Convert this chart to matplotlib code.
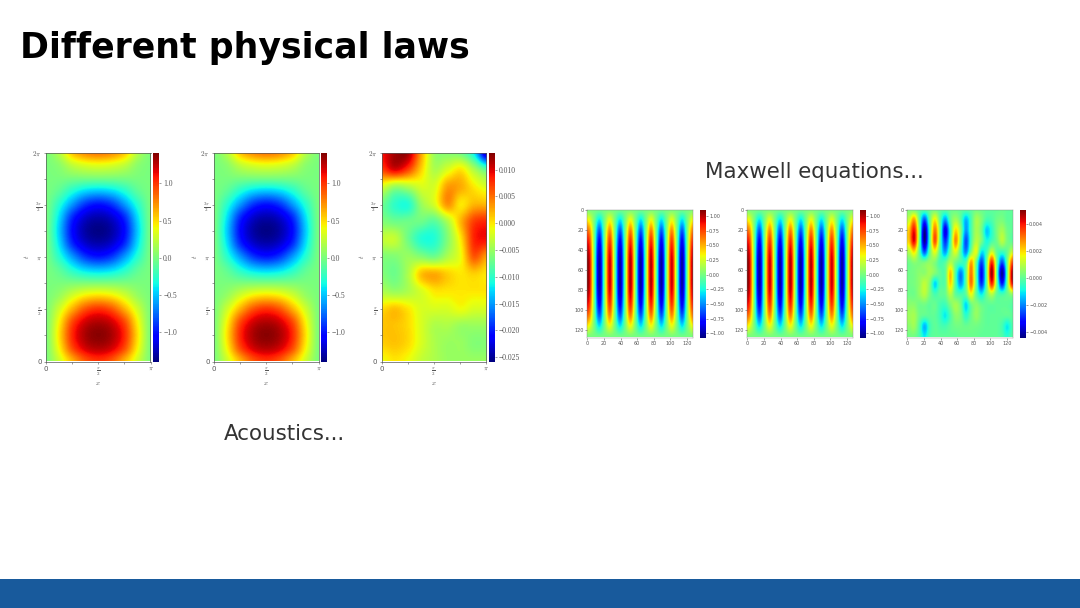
import matplotlib
matplotlib.use('Agg')
import matplotlib.pyplot as plt
import numpy as np

W, H = 1080, 608

# Acoustics field, rows from t=2pi down to t=0, columns x=0..pi
acoustic_field = np.array([
    [0, .20, .58, .76, .82, .76, .58, .20, 0],
    [0, .06, .24, .33, .36, .33, .24, .06, 0],
    [0, 0, 0, 0, 0, 0, 0, 0, 0],
    [0, -.10, -.30, -.45, -.50, -.45, -.30, -.10, 0],
    [0, -.28, -.62, -.90, -1.0, -.90, -.62, -.28, 0],
    [0, -.42, -.93, -1.20, -1.28, -1.20, -.93, -.42, 0],
    [0, -.48, -1.03, -1.30, -1.38, -1.30, -1.03, -.48, 0],
    [0, -.42, -.93, -1.20, -1.28, -1.20, -.93, -.42, 0],
    [0, -.28, -.62, -.90, -1.0, -.90, -.62, -.28, 0],
    [0, -.10, -.30, -.45, -.50, -.45, -.30, -.10, 0],
    [0, 0, 0, 0, 0, 0, 0, 0, 0],
    [0, .10, .30, .45, .50, .45, .30, .10, 0],
    [0, .28, .62, .90, 1.0, .90, .62, .28, 0],
    [0, .42, .93, 1.20, 1.28, 1.20, .93, .42, 0],
    [0, .48, 1.03, 1.30, 1.38, 1.30, 1.03, .48, 0],
    [0, .42, .93, 1.20, 1.28, 1.20, .93, .42, 0],
    [0, .28, .62, .90, 1.0, .90, .62, .28, 0],
])

# Acoustics error, same orientation, in units of 0.001
acoustic_error = np.array([
    [9, 12, 12, 3, -5, -6, -7, -12, -25],
    [7, 10, 7, 1, -4, -2, 0, -4, -8],
    [-2, -5, -4, -2, -2, 3, 2.5, 0, -2],
    [-7, -10, -10.5, -5, -2, 3.5, 0, 2, 2],
    [-6, -7, -7, -7, -8, -4, 2, 7, 8],
    [-3, -3, -7, -10.5, -10.5, -6, 0, 8, 9],
    [-6, -6, -5, -6, -7, -4, -1, 6, 3],
    [-6, -7, -4, 1.5, 2.5, 1, 0, 1, 0],
    [-4, -5, -4, -2, 0, 0, 0, 0, 0],
    [.5, 1.5, 0, -2, -2, -2, -1, -2, -2],
    [1.5, 1.5, .5, -2, -4, -4, -5, -5, -5],
    [1, 1.5, .5, -2, -4, -5, -5, -6, -6],
    [-1, 0, -1, -3, -4, -5, -5, -5, -5],
])

# Maxwell stripes: peaks and nodes across x, strength down y
stripe_profile = [1.0, 0, -1.0, 0, .95, 0, -1.0, 0, 1.0, 0, -1.0, 0, 1.0, 0, -1.0, 0, .95, 0, -1.0, 0, 1.0]
stripe_envelope = [0, .3, .6, .8, .93, 1.0, 1.0, 1.0, .93, .8, .6, .3, 0]

# Maxwell error, rows top to bottom, in units of 0.001
maxwell_error = np.array([
    [.3, .2, 0, 0, .1, .2, 0, 0, .1, .1, 0, 0, 0, .2, .1, 0, 0, 0, .1, 0, 0],
    [1.2, 2.6, 0, -2.5, 0, 1.8, 0, -1.8, 0, .8, 0, -1.5, -.3, .8, .4, -.3, -.2, .2, .3, 0, 0],
    [2.2, 4, .3, -4.2, -.3, 3, .2, -3.5, -.5, 2, .5, -1.8, -.3, .8, .2, -1.3, -.6, .3, .8, .2, 0],
    [2.2, 4.2, .2, -4.2, -.3, 3.4, 0, -2.8, -.3, 2.8, .3, -2.5, -.3, 1, .3, -.8, -.3, .2, 1, .3, 0],
    [1, 2, 0, -2.5, 0, 1.6, -.2, -1.8, .2, 1.5, -.2, -2, .3, 1.5, -1, -.4, 1.2, 0, -.4, .1, 1.2],
    [.2, .5, .3, .3, .6, .4, -.3, -.1, .9, .2, -.3, -.2, 2.5, .2, -2.6, 0, 3.8, .2, -2.5, .2, 3.5],
    [.2, .3, .5, .5, .8, .4, 0, 0, 2.2, -.2, -2, 0, 3, 0, -3.2, 0, 4.8, 0, -4.2, 0, 4.8],
    [.2, .3, .6, 1.1, .4, -1.2, -.2, 0, 2, -.2, -1.8, 0, 3, .1, -2.8, 0, 3.8, .2, -3, .2, 4.2],
    [.2, .2, .6, 1, .3, -.3, 0, .1, 1, 0, -.3, 0, 1.6, 0, -1, .1, 1, 0, -.3, .1, .6],
    [.5, .5, .2, .2, 0, .1, -.3, -.4, .3, .8, .2, -1.2, .1, .5, .1, 0, 0, 0, 0, 0, -.1],
    [.7, .8, .2, 0, 0, 0, -.4, -1, -.2, .5, .3, -.6, .1, .6, .2, 0, 0, 0, 0, 0, 0],
    [.5, .7, -.2, -1.5, -.4, 0, -.2, -.3, 0, .2, .2, .1, .2, .2, .1, 0, 0, 0, -.3, -1, -.2],
    [.2, .2, -.2, -1, -.2, 0, 0, 0, 0, 0, .1, .1, .1, .1, 0, 0, 0, 0, -.2, -.6, -.1],
])

acoustic_ticks = [-1.0, -0.5, 0.0, 0.5, 1.0]
acoustic_err_ticks = [-0.025, -0.020, -0.015, -0.010, -0.005, 0.000, 0.005, 0.010]
maxwell_ticks = [-1.0, -0.75, -0.5, -0.25, 0.0, 0.25, 0.5, 0.75, 1.0]
maxwell_err_ticks = [-0.004, -0.002, 0.0, 0.002, 0.004]
maxwell_axis_ticks = [0, 20, 40, 60, 80, 100, 120]

plt.rcParams['mathtext.fontset'] = 'cm'
SERIF = 'Liberation Serif'
GREY = '#555555'


def box(x0, y0, x1, y1):
    # pixel box with y measured from the top of the slide
    return [x0 / W, 1 - y1 / H, (x1 - x0) / W, (y1 - y0) / H]


def draw_acoustic(fig, x0, field, vmin, vmax, cticks, fmt):
    ax = fig.add_axes(box(x0, 153, x0 + 104.5, 361.5))
    ny, nx = field.shape
    dx, dy = np.pi / (nx - 1), 2 * np.pi / (ny - 1)
    im = ax.imshow(field, cmap='jet', vmin=vmin, vmax=vmax, aspect='auto', interpolation='catrom',
                   extent=[-dx / 2, np.pi + dx / 2, -dy / 2, 2 * np.pi + dy / 2])
    ax.set_xlim(0, np.pi)
    ax.set_ylim(0, 2 * np.pi)
    ax.set_xticks([0, np.pi / 2, np.pi])
    ax.set_xticklabels(['0', r'$\frac{\pi}{2}$', r'$\pi$'])
    ax.set_xticks([np.pi / 4, 3 * np.pi / 4], minor=True)
    ax.set_yticks([0, np.pi / 2, np.pi, 3 * np.pi / 2, 2 * np.pi])
    ax.set_yticklabels(['0', r'$\frac{\pi}{2}$', r'$\pi$', r'$\frac{3\pi}{2}$', r'$2\pi$'])
    ax.set_yticks(np.pi / 4 * np.array([1, 3, 5, 7]), minor=True)
    ax.tick_params(which='both', length=1.5, width=0.4, labelsize=5, pad=1.5, colors=GREY)
    ax.set_xlabel(r'$x$', fontsize=5, labelpad=1, color=GREY)
    ax.set_ylabel(r'$t$', fontsize=5, labelpad=1, color=GREY, rotation=90)
    for s in ax.spines.values():
        s.set_linewidth(0.5)
        s.set_color(GREY)
    cax = fig.add_axes(box(x0 + 107, 153, x0 + 113, 361.5))
    cb = fig.colorbar(im, cax=cax)
    cb.set_ticks(cticks)
    cb.set_ticklabels([fmt(t) for t in cticks], fontfamily=SERIF)
    cb.ax.tick_params(length=1.5, width=0.4, labelsize=5.5, pad=1.5, colors=GREY)
    cb.outline.set_linewidth(0)


def draw_maxwell(fig, x0, field, vmin, vmax, cticks, fmt):
    ax = fig.add_axes(box(x0, 210, x0 + 106, 337.5))
    ny, nx = field.shape
    dx = 124.8 / (nx - 1)
    dy = 128.0 / (ny - 1)
    im = ax.imshow(field, cmap='jet', vmin=vmin, vmax=vmax, aspect='auto', interpolation='catrom',
                   extent=[2 - dx / 2, 126.8 + dx / 2, 127.5 + dy / 2, -0.5 - dy / 2])
    ax.set_xlim(-0.5, 127.5)
    ax.set_ylim(127.5, -0.5)
    ax.set_xticks(maxwell_axis_ticks)
    ax.set_yticks(maxwell_axis_ticks)
    ax.tick_params(length=1.2, width=0.4, labelsize=3.5, pad=1, colors=GREY)
    for s in ax.spines.values():
        s.set_linewidth(0.3)
        s.set_color('#888888')
    cax = fig.add_axes(box(x0 + 113, 210, x0 + 119, 337.5))
    cb = fig.colorbar(im, cax=cax)
    cb.set_ticks(cticks)
    cb.set_ticklabels([fmt(t) for t in cticks])
    cb.ax.tick_params(length=1.2, width=0.4, labelsize=3.5, pad=1, colors=GREY)
    cb.outline.set_linewidth(0)


fig = plt.figure(figsize=(W / 100, H / 100), dpi=100, facecolor='white')

fmt1 = lambda t: f'{t:.1f}'.replace('-', '\u2212')
fmt3 = lambda t: f'{t:.3f}'.replace('-', '\u2212')
fmt2 = lambda t: f'{t:.2f}'.replace('-', '\u2212')

draw_acoustic(fig, 46, acoustic_field, -1.40, 1.41, acoustic_ticks, fmt1)
draw_acoustic(fig, 214, acoustic_field, -1.40, 1.41, acoustic_ticks, fmt1)
draw_acoustic(fig, 381.5, acoustic_error * 0.001, -0.0258, 0.0131, acoustic_err_ticks, fmt3)

stripes = np.outer(stripe_envelope, stripe_profile)
draw_maxwell(fig, 587, stripes, -1.07, 1.10, maxwell_ticks, fmt2)
draw_maxwell(fig, 747, stripes, -1.07, 1.10, maxwell_ticks, fmt2)
draw_maxwell(fig, 907, maxwell_error * 0.001, -0.0044, 0.00505, maxwell_err_ticks, fmt3)

# slide furniture
fig.add_artist(plt.Rectangle((0, 0), 1, 29 / H, transform=fig.transFigure, color='#185a9c', lw=0))
fig.text(20 / W, 1 - 58 / H, 'Different physical laws', fontsize=25, fontweight='bold',
         family='DejaVu Sans', color='black')
fig.text(284.5 / W, 1 - 434 / H, 'Acoustics...', fontsize=15.4, family='DejaVu Sans', ha='center', va='center', color='#333333')
fig.text(814 / W, 1 - 172 / H, 'Maxwell equations...', fontsize=15.4, family='DejaVu Sans', ha='center', va='center', color='#333333')

fig.savefig('out.png', dpi=100)
